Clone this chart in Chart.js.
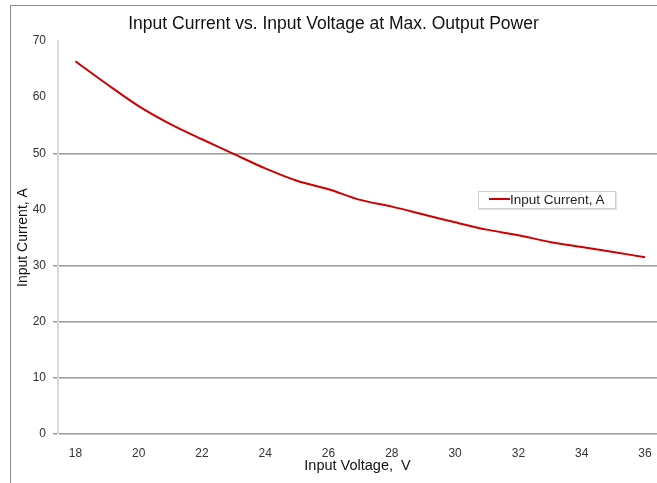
<!DOCTYPE html>
<html>
<head>
<meta charset="utf-8">
<script src="https://cdn.jsdelivr.net/npm/chart.js@4"></script>
<style>
  html, body { margin: 0; padding: 0; background: #fff; overflow: hidden; }
  #wrap { position: relative; width: 657px; height: 483px; }
  #frame { position: absolute; left: 10px; top: 5px; width: 660px; height: 500px;
           border-top: 1px solid #8a8a8a; border-left: 1px solid #8a8a8a; }
  #chart { position: absolute; left: 0; top: 0; }
  #legend { position: absolute; left: 478px; top: 191px; width: 126px; height: 16px; padding: 0 0 0 10px;
            border: 1px solid #d0d0d0; box-shadow: 1px 1px 1px #e4e4e4; background: #fff;
            font: 13.5px "Liberation Sans", Arial, sans-serif; color: #222; line-height: 16px;
            white-space: nowrap; }
  #legend i { display: inline-block; width: 21px; height: 0; border-top: 2px solid #cc0000;
              vertical-align: middle; margin-top: -2px; }
</style>
</head>
<body>
<div id="wrap">
  <div id="frame"></div>
  <canvas id="chart" width="657" height="483"></canvas>
  <div id="legend"></div>
</div>
<script>
// Input voltage (V) and the current (A)
const VOLTAGES = [18, 19, 20, 21, 22, 23, 24, 25, 26, 27, 28, 29, 30, 31, 32, 33, 34, 35, 36];
const CURRENTS = [66.4, 62.3, 58.4, 55.2, 52.5, 49.9, 47.3, 45.1, 43.6, 41.7, 40.5, 39.1, 37.7, 36.4, 35.4, 34.2, 33.3, 32.4, 31.5];
const X_TICKS = [18, 20, 22, 24, 26, 28, 30, 32, 34, 36];
const Y_TICKS = [0, 10, 20, 30, 40, 50, 60, 70];
const Y_GRID = [0, 10, 20, 30, 50]; // the original only draws these

const TITLE = 'Input Current vs. Input Voltage at Max. Output Power';
const SERIES_LABEL = 'Input Current, A';
const X_TITLE = 'Input Voltage,  V';
const Y_TITLE = 'Input Current, A';

const FONT = '"Liberation Sans", Arial, sans-serif';

document.getElementById('legend').innerHTML = '<i></i>' + SERIES_LABEL;

new Chart(document.getElementById('chart'), {
    type: 'line',
    data: {
        datasets: [{
            label: SERIES_LABEL,
            data: VOLTAGES.map((v, i) => ({ x: v, y: CURRENTS[i] })),
            borderColor: '#cc0000',
            borderWidth: 2,
            pointRadius: 0,
            tension: 0.3,
            fill: false,
        }],
    },
    options: {
        responsive: false,
        animation: false,
        layout: { padding: { left: 10, right: 0, top: 0, bottom: 0 } },
        plugins: {
            legend: { display: false },
            tooltip: { enabled: false },
            title: {
                display: true,
                text: TITLE,
                color: '#111',
                font: { family: FONT, size: 17.5, weight: 'normal' },
                padding: { top: 14, bottom: 6 },
            },
        },
        scales: {
            x: {
                type: 'linear',
                min: 17.45,
                max: 36.38,
                afterBuildTicks: (s) => { s.ticks = X_TICKS.map(v => ({ value: v })); },
                ticks: { color: '#333', font: { family: FONT, size: 12 }, padding: 12, maxRotation: 0 },
                grid: { display: false, drawTicks: false },
                border: { display: false },
                title: {
                    display: true,
                    text: X_TITLE,
                    color: '#111',
                    font: { family: FONT, size: 14.5 },
                    padding: { top: 0, bottom: 8 },
                },
                afterFit: (s) => {
                    s.height = 49;
                    // plot runs right to the edge of the picture
                    s.paddingLeft = 0;
                    s.paddingRight = 0;
                },
            },
            y: {
                min: 0,
                max: 70,
                afterBuildTicks: (s) => { s.ticks = Y_TICKS.map(v => ({ value: v })); },
                ticks: { color: '#333', font: { family: FONT, size: 12 }, padding: 7 },
                grid: {
                    color: (c) => Y_GRID.includes(c.tick?.value) ? '#9a9a9a' : 'rgba(0,0,0,0)',
                    lineWidth: 1.5,
                    tickLength: 5,
                },
                border: { display: true, color: '#d9d9d9', width: 2 },
                title: {
                    display: true,
                    text: Y_TITLE,
                    color: '#111',
                    font: { family: FONT, size: 14 },
                    padding: { top: 5, bottom: 0 },
                },
                afterFit: (s) => { s.width = 48; },
            },
        },
    },
});
</script>
</body>
</html>
